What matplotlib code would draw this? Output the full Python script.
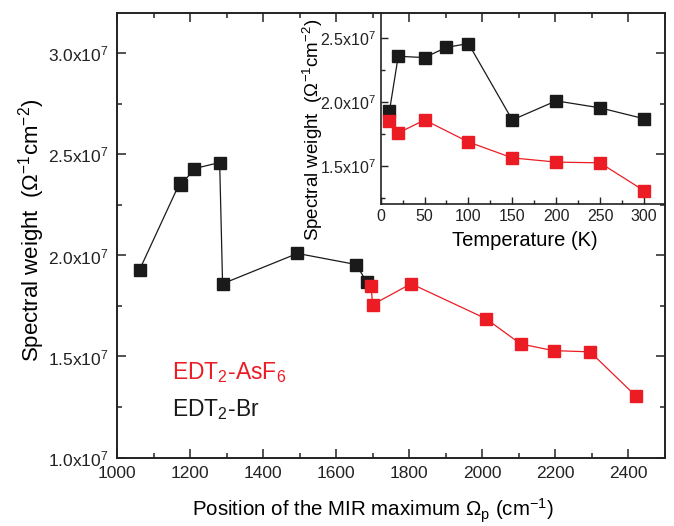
import matplotlib
matplotlib.use("Agg")
import matplotlib.pyplot as plt
from matplotlib.ticker import MultipleLocator, FuncFormatter

plt.rcParams['font.family'] = ['Liberation Sans', 'DejaVu Sans']
plt.rcParams['mathtext.fontset'] = 'custom'
plt.rcParams['mathtext.rm'] = 'Liberation Sans'
plt.rcParams['mathtext.it'] = 'Liberation Sans:italic'

# EDT2-Br (black): temperature, MIR position, spectral weight
br_temp = [10, 20, 50, 75, 100, 150, 200, 250, 300]
br_pos = [1062, 1172, 1176, 1212, 1281, 1289, 1494, 1655, 1683]
br_sw = [1.93e7, 2.36e7, 2.35e7, 2.43e7, 2.46e7, 1.86e7, 2.01e7, 1.955e7, 1.87e7]

# EDT2-AsF6 (red)
as_temp = [10, 20, 50, 100, 150, 200, 250, 300]
as_pos = [1695, 1700, 1805, 2010, 2105, 2195, 2295, 2420]
as_sw = [1.85e7, 1.757e7, 1.86e7, 1.687e7, 1.562e7, 1.529e7, 1.523e7, 1.305e7]

RED = '#ec1c24'
BLK = '#1a1a1a'
SW_LABEL = r'Spectral weight  ($\mathrm{\Omega}^{\mathrm{-1}}$cm$^{\mathrm{-2}}$)'


def sci_fmt(v, pos):
    return f'{v / 1e7:.1f}x10$^{{7}}$'


fig = plt.figure(figsize=(6.74, 5.26), dpi=100)
ax = fig.add_axes([0.1736, 0.1302, 0.8130, 0.8451])

ax.plot(br_pos, br_sw, '-s', color=BLK, lw=0.9, ms=8.5, mec=BLK)
ax.plot(as_pos, as_sw, '-s', color=RED, lw=0.9, ms=8.5, mec=RED)

ax.set_xlim(1000, 2500)
ax.set_ylim(1.0e7, 3.2e7)
ax.xaxis.set_major_locator(MultipleLocator(200))
ax.xaxis.set_minor_locator(MultipleLocator(100))
ax.yaxis.set_major_locator(MultipleLocator(0.5e7))
ax.yaxis.set_minor_locator(MultipleLocator(0.25e7))
ax.yaxis.set_major_formatter(FuncFormatter(sci_fmt))
ax.tick_params(which='both', direction='in', top=True, right=True, width=1.1,
               labelsize=12.5, colors='#222222')
ax.tick_params(which='major', length=6.5, pad=6)
ax.tick_params(which='minor', length=3.5)
for s in ax.spines.values():
    s.set_linewidth(1.4)
    s.set_color('#222222')

ax.set_xlabel(r'Position of the MIR maximum $\mathrm{\Omega_p}$ (cm$^{\mathrm{-1}}$)',
              fontsize=14.8)
ax.xaxis.set_label_coords(0.468, -0.088)
ax.set_ylabel(SW_LABEL, fontsize=16)
ax.yaxis.set_label_coords(-0.128, 0.512)

# series labels
ax.text(0.100, 0.192, r'EDT$_2$-AsF$_6$', color=RED, fontsize=16.5,
        va='center', ha='left', transform=ax.transAxes)
ax.text(0.100, 0.109, r'EDT$_2$-Br', color=BLK, fontsize=16.5,
        va='center', ha='left', transform=ax.transAxes)

# inset: spectral weight vs temperature
ins = fig.add_axes([0.5648, 0.6122, 0.4218, 0.3631])
ins.patch.set_alpha(0)
ins.plot(br_temp, br_sw, '-s', color=BLK, lw=0.9, ms=8, mec=BLK)
ins.plot(as_temp, as_sw, '-s', color=RED, lw=0.9, ms=8, mec=RED)
ins.set_xlim(0, 324)
ins.set_ylim(1.2e7, 2.7e7)
ins.xaxis.set_major_locator(MultipleLocator(50))
ins.xaxis.set_minor_locator(MultipleLocator(25))
ins.yaxis.set_major_locator(MultipleLocator(0.5e7))
ins.yaxis.set_minor_locator(MultipleLocator(0.25e7))
ins.yaxis.set_major_formatter(FuncFormatter(sci_fmt))
ins.tick_params(which='both', direction='in', width=1.0, labelsize=11.5,
                colors='#222222')
ins.tick_params(which='major', length=5)
ins.tick_params(which='minor', length=3)
ins.spines['top'].set_visible(False)
ins.spines['right'].set_visible(False)
for s in ['left', 'bottom']:
    ins.spines[s].set_linewidth(1.2)
    ins.spines[s].set_color('#222222')
ins.set_xlabel('Temperature (K)', fontsize=14.5)
ins.xaxis.set_label_coords(0.506, -0.14)
ins.set_ylabel(SW_LABEL, fontsize=13.5)
ins.yaxis.set_label_coords(-0.196, 0.387)

fig.savefig('out.png', dpi=100)
